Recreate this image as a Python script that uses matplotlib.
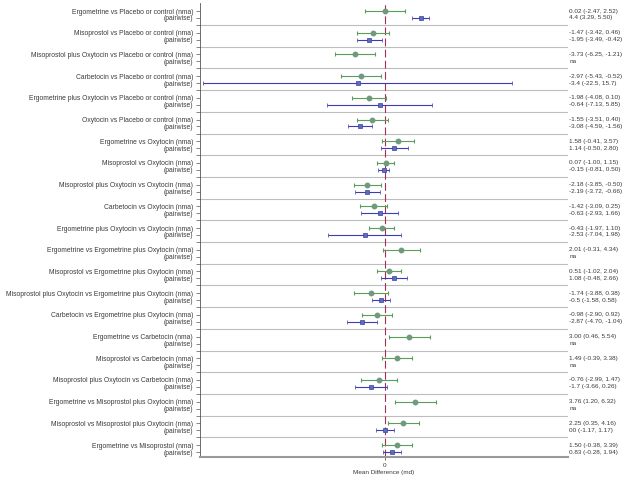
import numpy as np
import matplotlib
matplotlib.use("Agg")
import matplotlib.pyplot as plt

plt.rcParams['font.family'] = ['Liberation Sans', 'DejaVu Sans']

comparisons = [
    "Ergometrine vs Placebo or control",
    "Misoprostol vs Placebo or control",
    "Misoprostol plus Oxytocin vs Placebo or control",
    "Carbetocin vs Placebo or control",
    "Ergometrine plus Oxytocin vs Placebo or control",
    "Oxytocin vs Placebo or control",
    "Ergometrine vs Oxytocin",
    "Misoprostol vs Oxytocin",
    "Misoprostol plus Oxytocin vs Oxytocin",
    "Carbetocin vs Oxytocin",
    "Ergometrine plus Oxytocin vs Oxytocin",
    "Ergometrine vs Ergometrine plus Oxytocin",
    "Misoprostol vs Ergometrine plus Oxytocin",
    "Misoprostol plus Oxytocin vs Ergometrine plus Oxytocin",
    "Carbetocin vs Ergometrine plus Oxytocin",
    "Ergometrine vs Carbetocin",
    "Misoprostol vs Carbetocin",
    "Misoprostol plus Oxytocin vs Carbetocin",
    "Ergometrine vs Misoprostol plus Oxytocin",
    "Misoprostol vs Misoprostol plus Oxytocin",
    "Ergometrine vs Misoprostol",
]

# network meta-analysis estimates
nma_est = [0.02, -1.47, -3.73, -2.97, -1.98, -1.55, 1.58, 0.07, -2.18, -1.42, -0.43,
           2.01, 0.51, -1.74, -0.98, 3.00, 1.49, -0.76, 3.76, 2.25, 1.50]
nma_lo = [-2.47, -3.42, -6.25, -5.43, -4.08, -3.51, -0.41, -1.00, -3.85, -3.09, -1.97,
          -0.31, -1.02, -3.88, -2.90, 0.46, -0.39, -2.99, 1.20, 0.35, -0.38]
nma_hi = [2.52, 0.46, -1.21, -0.52, 0.10, 0.40, 3.57, 1.15, -0.50, 0.25, 1.10,
          4.34, 2.04, 0.38, 0.92, 5.54, 3.38, 1.47, 6.32, 4.16, 3.39]
nma_txt = ["0.02 (-2.47, 2.52)", "-1.47 (-3.42, 0.46)", "-3.73 (-6.25, -1.21)",
           "-2.97 (-5.43, -0.52)", "-1.98 (-4.08, 0.10)", "-1.55 (-3.51, 0.40)",
           "1.58 (-0.41, 3.57)", "0.07 (-1.00, 1.15)", "-2.18 (-3.85, -0.50)",
           "-1.42 (-3.09, 0.25)", "-0.43 (-1.97, 1.10)", "2.01 (-0.31, 4.34)",
           "0.51 (-1.02, 2.04)", "-1.74 (-3.88, 0.38)", "-0.98 (-2.90, 0.92)",
           "3.00 (0.46, 5.54)", "1.49 (-0.39, 3.38)", "-0.76 (-2.99, 1.47)",
           "3.76 (1.20, 6.32)", "2.25 (0.35, 4.16)", "1.50 (-0.38, 3.39)"]

# pairwise estimates (None = not available)
pw_est = [4.4, -1.95, None, -3.4, -0.64, -3.08, 1.14, -0.15, -2.19, -0.63, -2.53,
          None, 1.08, -0.5, -2.87, None, None, -1.7, None, 0.0, 0.83]
pw_lo = [3.29, -3.49, None, -22.5, -7.13, -4.59, -0.50, -0.81, -3.72, -2.93, -7.04,
         None, -0.48, -1.58, -4.70, None, None, -3.66, None, -1.17, -0.28]
pw_hi = [5.50, -0.42, None, 15.7, 5.85, -1.56, 2.80, 0.50, -0.66, 1.66, 1.98,
         None, 2.66, 0.58, -1.04, None, None, 0.26, None, 1.17, 1.94]
pw_txt = ["4.4 (3.29, 5.50)", "-1.95 (-3.49, -0.42)", "na", "-3.4 (-22.5, 15.7)",
          "-0.64 (-7.13, 5.85)", "-3.08 (-4.59, -1.56)", "1.14 (-0.50, 2.80)",
          "-0.15 (-0.81, 0.50)", "-2.19 (-3.72, -0.66)", "-0.63 (-2.93, 1.66)",
          "-2.53 (-7.04, 1.98)", "na", "1.08 (-0.48, 2.66)", "-0.5 (-1.58, 0.58)",
          "-2.87 (-4.70, -1.04)", "na", "na", "-1.7 (-3.66, 0.26)", "na",
          "00 (-1.17, 1.17)", "0.83 (-0.28, 1.94)"]

n = len(comparisons)
groups = np.arange(n)
y_nma = groups.astype(float)
y_pw = groups + 0.32
y_sep = groups[:-1] + 0.645

fig = plt.figure(figsize=(6.4, 4.8), dpi=100)
ax = fig.add_axes([200 / 640, 1 - 457 / 480, 368 / 640, 454 / 480])

txt_col = "#3a3a3a"
green_line, green_mk = "#5a9e5a", "#6f9a7c"
blue_line, blue_mk = "#3c3cb4", "#5b70b0"

for y in y_sep:
    ax.axhline(y, color="#bdbdbd", lw=0.8, zorder=1)

ax.axvline(0, color="#a3304f", lw=0.8, ls=(0, (7, 3)), zorder=2)

nma_est = np.array(nma_est)
ax.errorbar(nma_est, y_nma,
            xerr=[nma_est - np.array(nma_lo), np.array(nma_hi) - nma_est],
            fmt="o", ms=3.2, color=green_mk, mec=green_mk, ecolor=green_line,
            elinewidth=0.8, capsize=1.6, capthick=0.8, zorder=3)

idx = [i for i in range(n) if pw_est[i] is not None]
pe = np.array([pw_est[i] for i in idx])
pl = np.array([pw_lo[i] for i in idx])
ph = np.array([pw_hi[i] for i in idx])
ax.errorbar(pe, y_pw[idx], xerr=[pe - pl, ph - pe],
            fmt="s", ms=3.4, color=blue_mk, mec=blue_line, mew=0.5, ecolor=blue_line,
            elinewidth=0.8, capsize=1.6, capthick=0.8, zorder=3)

ax.set_xlim(-22.9, 22.65)
ax.set_ylim(20.55, -0.37)

ylabels_pos = list(y_nma) + list(y_pw)
ylabels = [c + " (nma)" for c in comparisons] + ["(pairwise)"] * n
ax.set_yticks(ylabels_pos)
ax.set_yticklabels(ylabels, fontsize=4.9, color=txt_col)
ax.set_yticks(y_sep, minor=True)
ax.tick_params(axis="y", which="both", length=3, width=0.5, color="#555555", pad=2)

ax.set_xticks([0])
ax.set_xticklabels(["0"], fontsize=4.6, color=txt_col)
ax.tick_params(axis="x", length=2.5, width=0.6, color="#555555", pad=1.5)
ax.set_xlabel("Mean Difference (md)", fontsize=4.6, color=txt_col, labelpad=1.5)

for s in ["top", "right"]:
    ax.spines[s].set_visible(False)
ax.spines["left"].set_color("#555555")
ax.spines["left"].set_linewidth(0.6)
ax.spines["bottom"].set_color("#999999")
ax.spines["bottom"].set_linewidth(1.5)

for i in range(n):
    ax.text(1.004, y_nma[i], nma_txt[i], transform=ax.get_yaxis_transform(),
            fontsize=4.6, color=txt_col, va="center", ha="left")
    ax.text(1.004, y_pw[i], pw_txt[i], transform=ax.get_yaxis_transform(),
            fontsize=4.6, color=txt_col, va="center", ha="left")

fig.savefig("out.png", dpi=100)
